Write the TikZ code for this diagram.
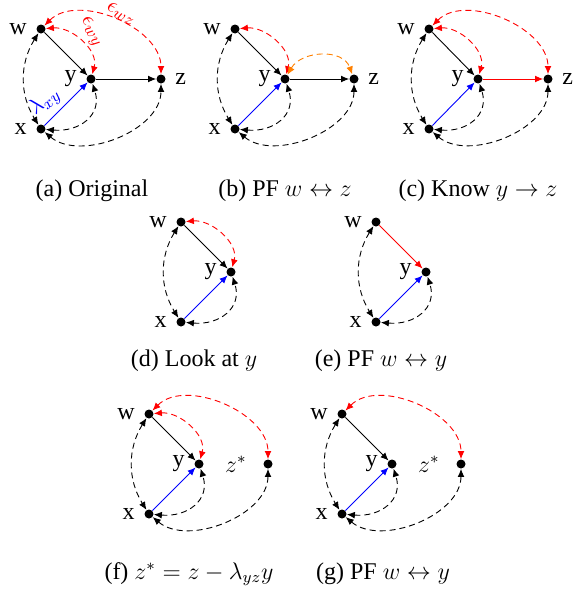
\documentclass[tikz,border=0pt]{standalone}
\usepackage[no-math]{fontspec}
\setmainfont{Liberation Serif}
\usetikzlibrary{arrows.meta}
\tikzset{
  dot/.style={circle,fill=black,inner sep=0pt,minimum size=4.5pt},
  every label/.style={font=\fontsize{12}{14}\selectfont,inner sep=1pt},
  label distance=3.5pt,
  arr/.style={-{Latex[length=4pt,width=3.4pt]}, line width=0.45pt},
  bi/.style={{Latex[length=4pt,width=3.4pt]}-{Latex[length=4pt,width=3.4pt]}, dash pattern=on 3pt off 2pt, line width=0.45pt},
  cwx/.style={out=238,in=122,looseness=1.0},
  cxy/.style={out=-5,in=-72,looseness=1.3},
  cxz/.style={out=-40,in=-90,looseness=0.95},
  cwy/.style={out=5,in=75,looseness=1.0},
  cwz/.style={out=45,in=90,looseness=0.95},
  cyz/.style={out=60,in=110,looseness=1.1},
  capnode/.style={font=\fontsize{12}{14}\selectfont, anchor=base, inner sep=0pt},
  elab/.style={font=\fontsize{11}{13}\selectfont, inner sep=0pt},
}
\begin{document}
\begin{tikzpicture}[x=0.5pt,y=0.5pt]
\useasboundingbox (0,0) rectangle (573,-594);
% ---------- (a)
\begin{scope}[shift={(41,-29)}]
  \node[dot,label=left:w] (aw) at (0,0) {};
  \node[dot,label=left:y] (ay) at (50,-50) {};
  \node[dot,label=left:x] (ax) at (0,-100) {};
  \node[dot,label=right:z] (az) at (120,-50) {};
  \draw[arr] (aw) -- (ay);
  \draw[arr] (ay) -- (az);
  \draw[arr,blue] (ax) -- (ay);
  \draw[bi] (aw) to[cwx] (ax);
  \draw[bi] (ax) to[cxy] (ay);
  \draw[bi] (ax) to[cxz] (az);
  \draw[bi,red] (aw) to[cwy] (ay);
  \draw[bi,red] (aw) to[cwz] (az);
  \node[elab,red,rotate=-58] (aewy) at (50,-3) {$\epsilon_{wy}$};
  \node[elab,red,rotate=-27] (aewz) at (80,15) {$\epsilon_{wz}$};
  \node[elab,blue,rotate=40] (alxy) at (4,-73) {$\lambda_{xy}$};
\end{scope}
% ---------- (b)
\begin{scope}[shift={(235,-29)}]
  \node[dot,label=left:w] (bw) at (0,0) {};
  \node[dot,label=left:y] (by) at (50,-50) {};
  \node[dot,label=left:x] (bx) at (0,-100) {};
  \node[dot,label=right:z] (bz) at (119,-50) {};
  \draw[arr] (bw) -- (by);
  \draw[arr] (by) -- (bz);
  \draw[arr,blue] (bx) -- (by);
  \draw[bi] (bw) to[cwx] (bx);
  \draw[bi] (bx) to[cxy] (by);
  \draw[bi] (bx) to[cxz] (bz);
  \draw[bi,red] (bw) to[cwy] (by);
  \draw[bi,orange] (by) to[cyz] (bz);
\end{scope}
% ---------- (c)
\begin{scope}[shift={(429,-29)}]
  \node[dot,label=left:w] (cw) at (0,0) {};
  \node[dot,label=left:y] (cy) at (49,-50) {};
  \node[dot,label=left:x] (cx) at (0,-100) {};
  \node[dot,label=right:z] (cz) at (119,-50) {};
  \draw[arr] (cw) -- (cy);
  \draw[arr,red] (cy) -- (cz);
  \draw[arr,blue] (cx) -- (cy);
  \draw[bi] (cw) to[cwx] (cx);
  \draw[bi] (cx) to[cxy] (cy);
  \draw[bi] (cx) to[cxz] (cz);
  \draw[bi,red] (cw) to[cwy] (cy);
  \draw[bi,red] (cw) to[cwz] (cz);
\end{scope}
% ---------- (d)
\begin{scope}[shift={(181,-222)}]
  \node[dot,label=left:w] (dw) at (0,0) {};
  \node[dot,label=left:y] (dy) at (50,-50) {};
  \node[dot,label=left:x] (dx) at (0,-100) {};
  \draw[arr] (dw) -- (dy);
  \draw[arr,blue] (dx) -- (dy);
  \draw[bi] (dw) to[cwx] (dx);
  \draw[bi] (dx) to[cxy] (dy);
  \draw[bi,red] (dw) to[cwy] (dy);
\end{scope}
% ---------- (e)
\begin{scope}[shift={(376,-222)}]
  \node[dot,label=left:w] (ew) at (0,0) {};
  \node[dot,label=left:y] (ey) at (50,-50) {};
  \node[dot,label=left:x] (ex) at (0,-100) {};
  \draw[arr,red] (ew) -- (ey);
  \draw[arr,blue] (ex) -- (ey);
  \draw[bi] (ew) to[cwx] (ex);
  \draw[bi] (ex) to[cxy] (ey);
\end{scope}
% ---------- (f)
\begin{scope}[shift={(149,-414)}]
  \node[dot,label=left:w] (fw) at (0,0) {};
  \node[dot,label=left:y] (fy) at (50,-50) {};
  \node[dot,label=left:x] (fx) at (0,-100) {};
  \node[dot,label={[label distance=7pt]left:$z^*$}] (fz) at (119,-50) {};
  \draw[arr] (fw) -- (fy);
  \draw[arr,blue] (fx) -- (fy);
  \draw[bi] (fw) to[cwx] (fx);
  \draw[bi] (fx) to[cxy] (fy);
  \draw[bi] (fx) to[cxz] (fz);
  \draw[bi,red] (fw) to[cwy] (fy);
  \draw[bi,red] (fw) to[cwz] (fz);
\end{scope}
% ---------- (g)
\begin{scope}[shift={(342,-414)}]
  \node[dot,label=left:w] (gw) at (0,0) {};
  \node[dot,label=left:y] (gy) at (50,-50) {};
  \node[dot,label=left:x] (gx) at (0,-100) {};
  \node[dot,label={[label distance=7pt]left:$z^*$}] (gz) at (119,-50) {};
  \draw[arr] (gw) -- (gy);
  \draw[arr,blue] (gx) -- (gy);
  \draw[bi] (gw) to[cwx] (gx);
  \draw[bi] (gx) to[cxy] (gy);
  \draw[bi] (gx) to[cxz] (gz);
  \draw[bi,red] (gw) to[cwz] (gz);
\end{scope}
% ---------- captions
\node[capnode] (capa) at (92,-196) {(a) Original};
\node[capnode] (capb) at (285,-196) {(b) PF $w \leftrightarrow z$};
\node[capnode] (capc) at (478,-196) {(c) Know $y \rightarrow z$};
\node[capnode] (capd) at (194,-366) {(d) Look at $y$};
\node[capnode] (cape) at (381,-366) {(e) PF $w \leftrightarrow y$};
\node[capnode] (capf) at (189,-579) {(f) $z^* = z - \lambda_{yz} y$};
\node[capnode] (capg) at (383,-579) {(g) PF $w \leftrightarrow y$};
\end{tikzpicture}
\end{document}
